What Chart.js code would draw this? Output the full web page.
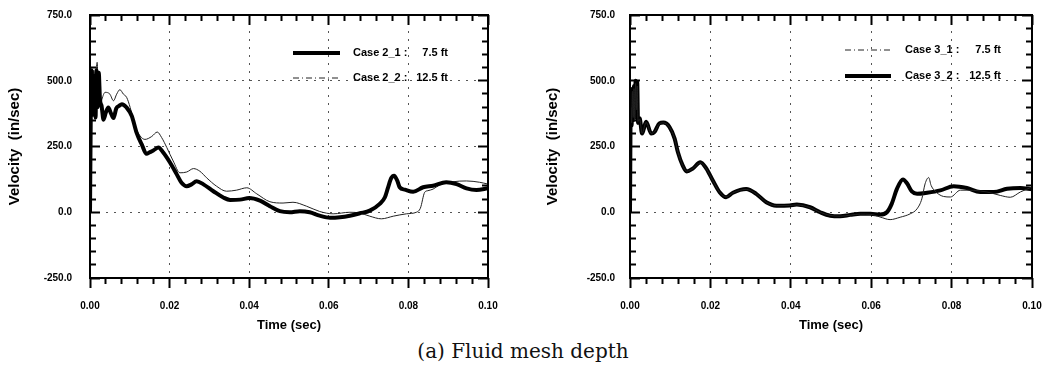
<!DOCTYPE html>
<html>
<head>
<meta charset="utf-8">
<script src="https://cdn.jsdelivr.net/npm/chart.js@4.4.1/dist/chart.umd.min.js"></script>
<style>
  body { margin: 0; background: #fff; }
  #wrap { position: relative; width: 1046px; height: 367px; }
  canvas { position: absolute; top: 0; }
  #left { left: 0; }
  #right { left: 523px; }
  #caption {
    position: absolute; left: 0; width: 1046px; top: 338px; text-align: center;
    font: 20px "DejaVu Serif", "Liberation Serif", serif; line-height: 26px; color: #111;
  }
</style>
</head>
<body>
<div id="wrap">
  <canvas id="left" width="523" height="335"></canvas>
  <canvas id="right" width="523" height="335"></canvas>
  <div id="caption">(a) Fluid mesh depth</div>
</div>
<script>
// axis ticks
const xTicks = [0, 0.02, 0.04, 0.06, 0.08, 0.10];
const yTicks = [-250, 0, 250, 500, 750];
const xMinor = [0.004, 0.008, 0.012, 0.016, 0.024, 0.028, 0.032, 0.036, 0.044, 0.048, 0.052, 0.056, 0.064, 0.068, 0.072, 0.076, 0.084, 0.088, 0.092, 0.096];
const yMinor = [-200, -150, -100, -50, 50, 100, 150, 200, 300, 350, 400, 450, 550, 600, 650, 700];

// legend text
const leftNames = ['Case 2_1 :', 'Case 2_2 :'];
const rightNames = ['Case 3_1 :', 'Case 3_2 :'];
const depths = ['7.5 ft', '12.5 ft'];

// Case 2_1 (7.5 ft) - thick line, left plot
const case21T = [0, 0.0002, 0.0004, 0.0006, 0.0008, 0.0010, 0.0012, 0.0014, 0.0016, 0.0019, 0.0022, 0.0025, 0.0029, 0.0034, 0.0040, 0.0046, 0.0053, 0.0059, 0.0066, 0.0073, 0.0080, 0.0092, 0.0105, 0.0117, 0.0130, 0.0142, 0.0150, 0.0159, 0.0172, 0.0184, 0.0201, 0.0218, 0.0230, 0.0243, 0.0255, 0.0268, 0.0285, 0.0310, 0.0335, 0.0352, 0.0377, 0.0400, 0.0427, 0.0452, 0.0477, 0.0502, 0.0527, 0.0552, 0.0577, 0.0603, 0.0628, 0.0653, 0.0678, 0.0703, 0.0728, 0.0741, 0.0749, 0.0757, 0.0764, 0.0772, 0.0778, 0.0791, 0.0812, 0.0837, 0.0862, 0.0895, 0.0921, 0.0946, 0.0971, 0.1000];
const case21V = [0, 380, 540, 370, 520, 380, 510, 360, 540, 400, 530, 430, 405, 352, 380, 398, 375, 358, 395, 404, 411, 398, 366, 303, 258, 222, 228, 235, 246, 227, 189, 144, 112, 99, 106, 118, 106, 80, 56, 47, 48, 54, 44, 23, 4, 0, 4, 0, -13, -21, -19, -13, -4, 6, 32, 57, 95, 130, 139, 120, 95, 86, 78, 95, 101, 114, 107, 91, 85, 91];

// Case 2_2 (12.5 ft) - thin line, left plot
const case22T = [0, 0.0003, 0.0006, 0.0009, 0.0012, 0.0015, 0.0018, 0.0021, 0.0025, 0.0030, 0.0038, 0.0050, 0.0059, 0.0067, 0.0075, 0.0084, 0.0092, 0.0101, 0.0113, 0.0126, 0.0138, 0.0155, 0.0169, 0.0180, 0.0193, 0.0209, 0.0226, 0.0243, 0.0260, 0.0276, 0.0293, 0.0318, 0.0343, 0.0368, 0.0394, 0.0419, 0.0452, 0.0485, 0.0510, 0.0544, 0.0577, 0.0611, 0.0653, 0.0678, 0.0703, 0.0732, 0.0762, 0.0795, 0.0820, 0.0830, 0.0841, 0.0849, 0.0862, 0.0879, 0.0912, 0.0946, 0.0979, 0.1000];
const case22V = [0, 470, 390, 540, 410, 520, 570, 440, 400, 430, 456, 449, 424, 449, 466, 449, 437, 398, 328, 290, 277, 288, 305, 284, 246, 195, 150, 153, 166, 156, 131, 99, 80, 84, 93, 70, 40, 35, 38, 23, 3, -6, 0, -3, -15, -25, -15, -6, 0, 15, 76, 82, 88, 104, 116, 119, 114, 107];

// Case 3_1 (7.5 ft) - thin line, right plot
const case31T = [0, 0.0002, 0.0004, 0.0006, 0.0008, 0.0010, 0.0012, 0.0014, 0.0016, 0.0018, 0.0020, 0.0024, 0.0030, 0.0040, 0.0053, 0.0061, 0.0073, 0.0083, 0.0098, 0.0111, 0.0119, 0.0131, 0.0141, 0.0156, 0.0175, 0.0190, 0.0206, 0.0223, 0.0239, 0.0256, 0.0289, 0.0314, 0.0339, 0.0364, 0.0397, 0.0415, 0.0448, 0.0473, 0.0498, 0.0523, 0.0548, 0.0573, 0.0598, 0.0622, 0.0647, 0.0672, 0.0697, 0.0714, 0.0726, 0.0734, 0.0743, 0.0749, 0.0762, 0.0780, 0.0797, 0.0822, 0.0855, 0.0888, 0.0921, 0.0946, 0.0971, 0.1000];
const case31V = [0, 400, 340, 460, 360, 470, 350, 490, 390, 480, 345, 355, 300, 342, 300, 306, 336, 340, 324, 280, 230, 178, 156, 166, 188, 165, 120, 76, 58, 74, 87, 70, 38, 25, 26, 28, 18, 0, -12, -15, -11, -7, -8, -18, -28, -19, -6, 13, 51, 108, 132, 102, 76, 60, 58, 84, 83, 77, 64, 57, 77, 96];

// Case 3_2 (12.5 ft) - thick line, right plot
const case32T = [0, 0.0002, 0.0004, 0.0006, 0.0008, 0.0010, 0.0012, 0.0014, 0.0016, 0.0018, 0.0020, 0.0024, 0.0030, 0.0040, 0.0053, 0.0061, 0.0073, 0.0083, 0.0098, 0.0111, 0.0119, 0.0131, 0.0141, 0.0156, 0.0175, 0.0190, 0.0206, 0.0223, 0.0239, 0.0256, 0.0289, 0.0314, 0.0339, 0.0364, 0.0397, 0.0415, 0.0448, 0.0473, 0.0498, 0.0523, 0.0548, 0.0573, 0.0598, 0.0622, 0.0639, 0.0651, 0.0664, 0.0679, 0.0689, 0.0701, 0.0714, 0.0739, 0.0772, 0.0805, 0.0838, 0.0871, 0.0905, 0.0938, 0.0971, 0.1000];
const case32V = [0, 420, 330, 470, 350, 480, 360, 500, 380, 495, 340, 357, 299, 344, 299, 305, 338, 341, 325, 280, 229, 178, 155, 166, 190, 166, 121, 76, 57, 74, 88, 70, 38, 25, 26, 29, 19, 0, -13, -15, -10, -6, -6, -9, 0, 32, 89, 125, 110, 79, 70, 74, 83, 99, 92, 77, 77, 89, 92, 87];

const FONT = "'Liberation Sans', Arial, sans-serif";

function pts(ts, vs) {
    return ts.map((t, i) => ({ x: t, y: vs[i] }));
}

// frame box + legend inside the plot
const plotDecor = {
    id: 'plotDecor',
    afterDraw(chart, args, opts) {
        const ctx = chart.ctx;
        const xs = chart.scales.x;
        const ys = chart.scales.y;
        const L = Math.round(xs.getPixelForValue(0));
        const R = Math.round(xs.getPixelForValue(0.1));
        const T = Math.round(ys.getPixelForValue(750));
        const B = Math.round(ys.getPixelForValue(-250));
        ctx.save();
        ctx.fillStyle = '#000';
        ctx.fillRect(L - 1, T - 1, R - L + 2, 2);
        ctx.fillRect(L - 1, B - 1, R - L + 2, 2);
        ctx.fillRect(L - 1, T - 1, 2, B - T + 2);
        ctx.fillRect(R - 1, T - 1, 2, B - T + 2);

        ctx.font = 'bold 11px ' + FONT;
        ctx.textBaseline = 'middle';
        chart.data.datasets.forEach((ds, i) => {
            const yy = opts.y + i * opts.gap;
            ctx.strokeStyle = ds.borderColor;
            ctx.lineWidth = ds.borderWidth;
            ctx.setLineDash(ds.borderWidth > 2 ? [] : [6, 3, 1, 3]);
            ctx.beginPath();
            ctx.moveTo(opts.x, yy);
            ctx.lineTo(opts.x + opts.len, yy);
            ctx.stroke();
            ctx.setLineDash([]);
            ctx.fillStyle = '#000';
            ctx.textAlign = 'left';
            ctx.fillText(ds.caseName, opts.textX, yy);
            ctx.textAlign = 'right';
            ctx.fillText(ds.depth, opts.endX, yy);
        });
        ctx.restore();
    }
};

// zero-size helper axis that only draws tick marks (negative length = inward)
function tickAxis(position, vals, len, weight) {
    const horiz = position === 'top' || position === 'bottom';
    return {
        type: 'linear', position, weight,
        min: horiz ? 0 : -250, max: horiz ? 0.1 : 750,
        afterBuildTicks: s => { s.ticks = vals.map(v => ({ value: v })); },
        afterFit: s => {
            if (horiz) s.height = 0; else s.width = 0;
            s.paddingLeft = 0; s.paddingRight = 0; s.paddingTop = 0; s.paddingBottom = 0;
        },
        ticks: { display: false },
        grid: { drawOnChartArea: false, drawTicks: true, tickLength: len, tickWidth: 2, tickColor: '#000', tickBorderDash: [] },
        border: { display: false },
        title: { display: false }
    };
}

function makeChart(id, datasets, yWidth, yPad, titlePad, padRight, legendOpts) {
    return new Chart(document.getElementById(id), {
        type: 'line',
        data: { datasets },
        plugins: [plotDecor],
        options: {
            responsive: false,
            animation: false,
            devicePixelRatio: 1,
            layout: { padding: { top: 15, right: padRight, bottom: 0, left: 0 } },
            elements: { point: { radius: 0 }, line: { cubicInterpolationMode: 'monotone' } },
            plugins: {
                legend: { display: false },
                tooltip: { enabled: false },
                plotDecor: legendOpts
            },
            scales: {
                x: {
                    type: 'linear', position: 'bottom', weight: 0, min: 0, max: 0.1,
                    afterFit: s => { s.height = 57; s.paddingLeft = 0; s.paddingRight = 0; },
                    afterBuildTicks: s => { s.ticks = xTicks.map(v => ({ value: v })); },
                    ticks: {
                        callback: v => v.toFixed(2), padding: 12, color: '#000',
                        maxRotation: 0, autoSkip: false,
                        font: { family: FONT, size: 10, weight: 'bold' }
                    },
                    grid: { drawTicks: true, tickLength: 10, tickWidth: 2, tickColor: '#000', tickBorderDash: [], color: '#555', lineWidth: 1 },
                    border: { display: false, dash: [2, 6] },
                    title: {
                        display: true, text: 'Time (sec)', color: '#000',
                        padding: { top: 0, bottom: 2 },
                        font: { family: FONT, size: 13, weight: 'bold' }
                    }
                },
                xBotMinor: tickAxis('bottom', xMinor, 6, -1),
                xTop: tickAxis('top', xTicks, -10, 0),
                xTopMinor: tickAxis('top', xMinor, -6, -1),
                y: {
                    position: 'left', weight: 0, min: -250, max: 750,
                    afterFit: s => { s.width = yWidth; s.paddingTop = 0; s.paddingBottom = 0; },
                    afterBuildTicks: s => { s.ticks = yTicks.map(v => ({ value: v })); },
                    ticks: {
                        callback: v => v.toFixed(1), padding: yPad + 10, color: '#000',
                        font: { family: FONT, size: 10, weight: 'bold' }
                    },
                    grid: { drawTicks: true, tickLength: -10, tickWidth: 2, tickColor: '#000', tickBorderDash: [], color: '#555', lineWidth: 1 },
                    border: { display: false, dash: [2, 6] },
                    title: {
                        display: true, text: 'Velocity  (in/sec)', color: '#000',
                        padding: { top: titlePad, bottom: 0 },
                        font: { family: FONT, size: 15, weight: 'bold' }
                    }
                },
                yLeftMinor: tickAxis('left', yMinor, -6, -1),
                yRight: tickAxis('right', yTicks, -10, 0),
                yRightMinor: tickAxis('right', yMinor, -6, -1)
            }
        }
    });
}

makeChart('left', [
    { label: leftNames[0] + ' ' + depths[0], caseName: leftNames[0], depth: depths[0],
      data: pts(case21T, case21V), borderColor: '#000', borderWidth: 4 },
    { label: leftNames[1] + ' ' + depths[1], caseName: leftNames[1], depth: depths[1],
      data: pts(case22T, case22V), borderColor: '#222', borderWidth: 1 }
], 90, 18, 6, 35, { x: 293, y: 53, gap: 25, len: 47, textX: 353, endX: 448 });

makeChart('right', [
    { label: rightNames[0] + ' ' + depths[0], caseName: rightNames[0], depth: depths[0],
      data: pts(case31T, case31V), borderColor: '#222', borderWidth: 1 },
    { label: rightNames[1] + ' ' + depths[1], caseName: rightNames[1], depth: depths[1],
      data: pts(case32T, case32V), borderColor: '#000', borderWidth: 4 }
], 107, 15, 21, 14, { x: 322, y: 50, gap: 26, len: 46, textX: 382, endX: 478 });
</script>
</body>
</html>
